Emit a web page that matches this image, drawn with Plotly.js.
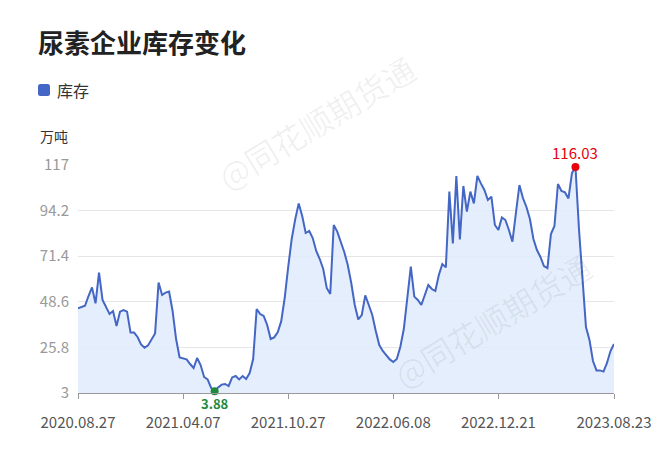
<!DOCTYPE html>
<html><head><meta charset="utf-8">
<script src="https://cdn.plot.ly/plotly-3.0.1.min.js"></script>
<style>html,body{margin:0;padding:0;background:#fff;}#chart{width:660px;height:449px;}</style>
</head><body><div id="chart"></div>
<script>
const dates = [
'2020.08.27','2020.09.03','2020.09.10','2020.09.17','2020.09.24','2020.10.08','2020.10.15','2020.10.22','2020.10.29','2020.11.05',
'2020.11.12','2020.11.19','2020.11.26','2020.12.03','2020.12.10','2020.12.17','2020.12.24','2020.12.31','2021.01.07','2021.01.14',
'2021.01.21','2021.01.28','2021.02.04','2021.02.18','2021.02.25','2021.03.04','2021.03.11','2021.03.18','2021.03.25','2021.04.01',
'2021.04.07','2021.04.14','2021.04.21','2021.04.28','2021.05.05','2021.05.12','2021.05.19','2021.05.26','2021.06.02','2021.06.09',
'2021.06.16','2021.06.23','2021.06.30','2021.07.07','2021.07.14','2021.07.21','2021.07.28','2021.08.04','2021.08.11','2021.08.18',
'2021.08.25','2021.09.01','2021.09.08','2021.09.15','2021.09.22','2021.09.29','2021.10.06','2021.10.09','2021.10.13','2021.10.20',
'2021.10.27','2021.11.03','2021.11.10','2021.11.17','2021.11.24','2021.12.01','2021.12.08','2021.12.15','2021.12.22','2021.12.29',
'2022.01.05','2022.01.12','2022.01.19','2022.01.26','2022.02.09','2022.02.16','2022.02.23','2022.03.02','2022.03.09','2022.03.16',
'2022.03.23','2022.03.30','2022.04.06','2022.04.13','2022.04.20','2022.04.27','2022.05.11','2022.05.18','2022.05.25','2022.06.01',
'2022.06.08','2022.06.15','2022.06.22','2022.06.29','2022.07.06','2022.07.13','2022.07.20','2022.07.27','2022.08.03','2022.08.10',
'2022.08.17','2022.08.24','2022.08.31','2022.09.07','2022.09.14','2022.09.21','2022.09.28','2022.09.29','2022.10.12','2022.10.13',
'2022.10.19','2022.10.20','2022.10.26','2022.11.02','2022.11.09','2022.11.16','2022.11.23','2022.11.30','2022.12.07','2022.12.14',
'2022.12.21','2022.12.28','2023.01.04','2023.01.11','2023.01.18','2023.02.01','2023.02.08','2023.02.15','2023.02.22','2023.03.01',
'2023.03.08','2023.03.15','2023.03.22','2023.03.29','2023.04.05','2023.04.12','2023.04.19','2023.04.26','2023.05.10','2023.05.17',
'2023.05.24','2023.05.31','2023.06.07','2023.06.14','2023.06.21','2023.06.28','2023.07.05','2023.07.12','2023.07.19','2023.07.26',
'2023.08.02','2023.08.09','2023.08.16','2023.08.23'
];
const stock = [
45.3,46.0,46.6,51.5,55.8,47.8,63.2,49.5,46.2,42.5,
44.0,36.5,43.7,44.5,43.7,33.2,33.2,31.0,27.3,25.6,
26.8,30.0,32.8,58.2,52.0,53.2,53.7,44.0,30.0,20.8,
20.3,19.8,17.5,15.5,20.5,17.0,11.0,9.8,5.5,3.88,
5.8,7.2,7.5,6.5,10.8,11.5,9.8,11.5,10.0,13.0,
20.0,45.0,42.5,41.5,37.0,30.0,30.8,33.3,38.8,50.5,
66.0,80.0,89.8,97.8,91.5,83.0,84.0,80.5,74.0,70.0,
65.0,55.5,52.5,87.0,83.7,79.0,73.5,67.0,58.0,47.0,
39.8,42.0,51.8,47.0,42.0,34.0,27.0,24.0,22.0,19.8,
18.5,20.0,26.0,35.0,50.5,66.2,51.2,49.5,47.0,52.5,
57.0,55.0,54.0,62.0,67.5,65.8,103.7,77.8,111.5,79.8,
106.5,93.7,103.7,97.8,111.5,107.8,104.5,99.5,101.2,87.0,
84.5,90.8,89.5,84.5,78.7,93.0,107.0,100.5,96.0,90.0,
80.0,74.5,71.0,66.5,65.5,82.5,86.5,107.5,104.0,103.3,
100.3,113.0,116.03,85.0,60.0,36.0,29.5,19.0,14.3,14.3,
13.7,18.0,24.0,27.5
];
const yTicks = [3, 25.8, 48.6, 71.4, 94.2, 117];
const xTickLabels = ['2020.08.27','2021.04.07','2021.10.27','2022.06.08','2022.12.21','2023.08.23'];
const seriesName = '库存';
const unitLabel = '万吨';
const titleText = '尿素企业库存变化';
const watermark = '@同花顺期货通';

const L = 78, R = 614, T = 165, B = 393;
const px = x => (x - L) / (R - L);
const py = y => (B - y) / (B - T);
const FONT = '"Noto Sans CJK SC", "Noto Sans", sans-serif';
const BLUE = '#4466c4';

let iMin = 0, iMax = 0;
stock.forEach((v, i) => { if (v < stock[iMin]) iMin = i; if (v > stock[iMax]) iMax = i; });

function roundRect(x0, y0, x1, y1, r) {
  const rx = r / (R - L), ry = r / (B - T);
  const X0 = px(x0), X1 = px(x1), Yt = py(y0), Yb = py(y1);
  return `M${X0+rx},${Yt} L${X1-rx},${Yt} Q${X1},${Yt} ${X1},${Yt-ry} L${X1},${Yb+ry} Q${X1},${Yb} ${X1-rx},${Yb} ` +
         `L${X0+rx},${Yb} Q${X0},${Yb} ${X0},${Yb+ry} L${X0},${Yt-ry} Q${X0},${Yt} ${X0+rx},${Yt} Z`;
}

const traces = [
  {type:'scatter', mode:'lines', name:seriesName, x:dates, y:stock,
   line:{color:BLUE, width:2}, fill:'tozeroy', fillcolor:'rgba(224,235,252,0.85)',
   showlegend:false, hoverinfo:'x+y'},
  {type:'scatter', mode:'markers', x:[dates[iMin], dates[iMax]], y:[stock[iMin], stock[iMax]],
   marker:{color:['#1f8a3b','#e8000b'], size:8}, cliponaxis:false, showlegend:false, hoverinfo:'skip'}
];

const layout = {
  width:660, height:449,
  margin:{l:L, r:660-R, t:T, b:449-B},
  paper_bgcolor:'#fff', plot_bgcolor:'#fff',
  font:{family:FONT, color:'#333'},
  title:{text:'<b>'+titleText+'</b>', x:38/660, xanchor:'left', xref:'container',
         y:1-44/449, yanchor:'middle', font:{size:26, color:'#222', family:FONT}},
  showlegend:false,
  xaxis:{type:'category', range:[0, dates.length-1], tickvals:xTickLabels, ticktext:xTickLabels,
         ticks:'outside', ticklen:5, tickcolor:'#999', showline:true, linecolor:'#999', linewidth:1,
         showgrid:false, zeroline:false, tickfont:{size:15, color:'#555', family:FONT},
         ticklabelstandoff:11, fixedrange:true},
  yaxis:{range:[3,117], tickvals:yTicks, ticktext:yTicks.map(String), showgrid:true, gridcolor:'#e6e6e6',
         gridwidth:1, zeroline:false, showline:false, ticks:'', tickfont:{size:15, color:'#999', family:FONT},
         ticklabelstandoff:8, fixedrange:true},
  shapes:[
    {type:'path', xref:'paper', yref:'paper', path:roundRect(38, 84, 50, 96, 2.5),
     fillcolor:BLUE, line:{width:0}}
  ],
  annotations:[
    {xref:'paper', yref:'paper', x:px(55), y:py(90), xanchor:'left', yanchor:'middle', showarrow:false,
     text:seriesName, font:{size:16, color:'#333', family:FONT}},
    {xref:'paper', yref:'paper', x:px(38), y:py(136), xanchor:'left', yanchor:'middle', showarrow:false,
     text:unitLabel, font:{size:14, color:'#333', family:FONT}},
    {xref:'x', yref:'y', x:dates[iMin], y:stock[iMin], yshift:-12, borderpad:0, showarrow:false,
     text:'<b>'+stock[iMin].toFixed(2)+'</b>', font:{size:13, color:'#1f8a3b', family:FONT}},
    {xref:'x', yref:'y', x:dates[iMax], y:stock[iMax], yshift:14, borderpad:0, showarrow:false,
     text:stock[iMax].toFixed(2), font:{size:15, color:'#e8000b', family:FONT}},
    {xref:'paper', yref:'paper', x:px(316), y:py(122), xanchor:'center', yanchor:'middle', showarrow:false, textangle:-31,
     text:watermark, font:{size:32, color:'rgba(0,0,0,0.06)', family:FONT}},
    {xref:'paper', yref:'paper', x:px(492), y:py(320), xanchor:'center', yanchor:'middle', showarrow:false, textangle:-31,
     text:watermark, font:{size:32, color:'rgba(0,0,0,0.06)', family:FONT}}
  ]
};

Plotly.newPlot('chart', traces, layout, {displayModeBar:false, staticPlot:true});
</script>
</body></html>
